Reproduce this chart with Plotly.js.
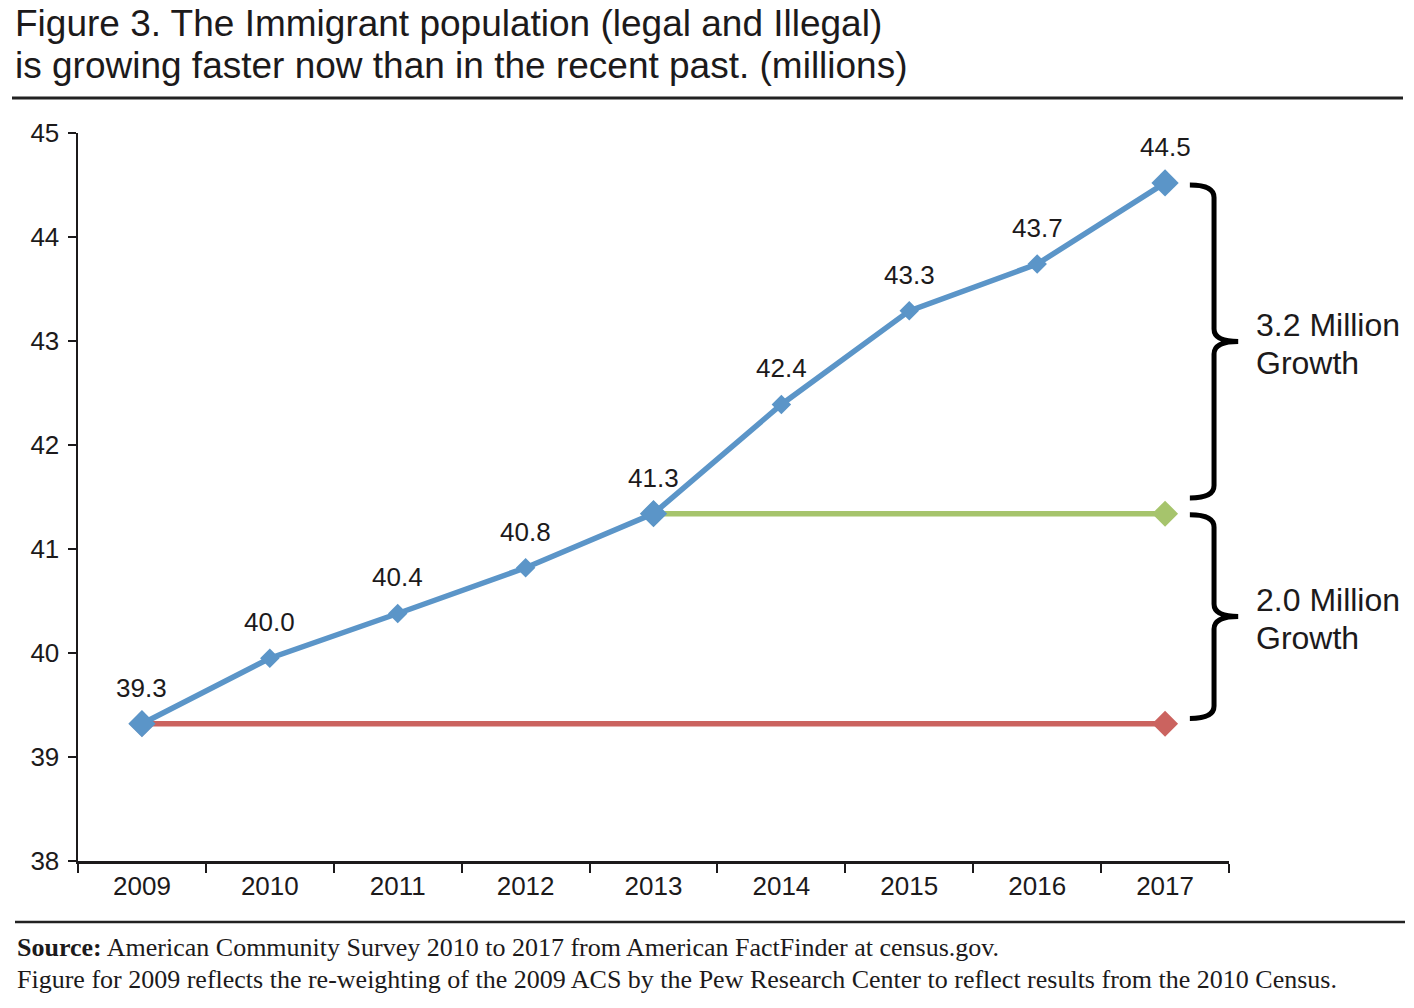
<!DOCTYPE html>
<html>
<head>
<meta charset="utf-8">
<script src="https://cdn.plot.ly/plotly-3.0.1.min.js"></script>
<style>
html,body{margin:0;padding:0;background:#fff;}
#chart{width:1414px;height:1008px;}
</style>
</head>
<body>
<div id="chart"></div>
<script>
// ---- data ----
const years = ['2009','2010','2011','2012','2013','2014','2015','2016','2017'];
const population = [39.32, 39.95, 40.38, 40.82, 41.34, 42.39, 43.29, 43.74, 44.52];
const valueLabels = ['39.3','40.0','40.4','40.8','41.3','42.4','43.3','43.7','44.5'];
const keyPoint = [true, false, false, false, true, false, false, false, true];
const baselineYears = ['2009', '2017'];
const baselineValues = [39.32, 39.32];
const midYears = ['2013', '2017'];
const midValues = [41.34, 41.34];
const braceLabels = [['3.2 Million', 'Growth'], ['2.0 Million', 'Growth']];
const titleLines = ['Figure 3. The Immigrant population (legal and Illegal)', 'is growing faster now than in the recent past. (millions)'];
const sourceLine1 = '<b>Source:</b> American Community Survey 2010 to 2017 from American FactFinder at census.gov.';
const sourceLine2 = 'Figure for 2009 reflects the re-weighting of the 2009 ACS by the Pew Research Center to reflect results from the 2010 Census.';

const BLUE = '#5b95c8', RED = '#cb635f', GREEN = '#a6c46c', INK = '#1c1a1b';
const SANS = 'Liberation Sans, Arial, Helvetica, sans-serif';
const SERIF = 'Liberation Serif, Times New Roman, serif';
const BIG = 21, SMALL = 15;

const traces = [
  { x: baselineYears, y: baselineValues, type: 'scatter', mode: 'lines+markers',
    line: {color: RED, width: 5.5}, marker: {symbol: 'diamond', size: 20, color: RED, opacity: 1},
    hoverinfo: 'skip', cliponaxis: false },
  { x: midYears, y: midValues, type: 'scatter', mode: 'lines+markers',
    line: {color: GREEN, width: 5.5}, marker: {symbol: 'diamond', size: 20, color: GREEN, opacity: 1},
    hoverinfo: 'skip', cliponaxis: false },
  { x: years, y: population, type: 'scatter', mode: 'lines+markers',
    line: {color: BLUE, width: 5.5},
    marker: {symbol: 'diamond', size: keyPoint.map(k => k ? BIG : SMALL), color: BLUE, opacity: 1,
             line: {width: 0}},
    hoverinfo: 'skip', cliponaxis: false }
];

// brace path builder (x in paper coords, y in data coords)
function brace(yTop, yBot) {
  const x0 = 0.966, x1 = 0.987, x2 = 1.008, d = 0.12;
  const ym = (yTop + yBot) / 2;
  return `M ${x0},${yTop} Q ${x1},${yTop} ${x1},${yTop - d} L ${x1},${ym + d} ` +
         `Q ${x1},${ym} ${x2},${ym} Q ${x1},${ym} ${x1},${ym - d} ` +
         `L ${x1},${yBot + d} Q ${x1},${yBot} ${x0},${yBot}`;
}
const endVal = population[population.length - 1];
const midVal = midValues[0];
const startVal = baselineValues[0];
const braceSpans = [[endVal - 0.02, midVal + 0.15], [midVal - 0.01, startVal + 0.05]];

const shapes = braceSpans.map(s => ({
  type: 'path', xref: 'paper', yref: 'y', path: brace(s[0], s[1]),
  line: {color: '#000', width: 5}
}));

// value labels: x given as category index (position on the category axis)
const annotations = years.map((yr, i) => ({
  x: i, y: population[i], xref: 'x', yref: 'y', text: valueLabels[i],
  showarrow: false, yshift: 36, font: {family: SANS, size: 26, color: INK}
}));
braceSpans.forEach((s, k) => {
  const ym = (s[0] + s[1]) / 2;
  braceLabels[k].forEach((line, j) => annotations.push({
    x: 1.022, xref: 'paper', y: ym, yref: 'y', text: line, showarrow: false,
    xanchor: 'left', yanchor: 'middle', yshift: j === 0 ? 17 : -21,
    font: {family: SANS, size: 32, color: INK}
  }));
});

const W = 1414, H = 1008, L = 78, R = 185, T = 133, B = 147;
// convert pixel positions for page-level text/rules to paper coords
function px(x) { return (x - L) / (W - L - R); }
function py(y) { return 1 - (y - T) / (H - T - B); }
annotations.push(
  {x: px(13), y: py(23), xref: 'paper', yref: 'paper', text: titleLines[0], showarrow: false,
   xanchor: 'left', yanchor: 'middle', font: {family: SANS, size: 37, color: INK}},
  {x: px(13), y: py(66), xref: 'paper', yref: 'paper', text: titleLines[1], showarrow: false,
   xanchor: 'left', yanchor: 'middle', font: {family: SANS, size: 37, color: INK}},
  {x: px(15), y: py(947), xref: 'paper', yref: 'paper', text: sourceLine1, showarrow: false,
   xanchor: 'left', yanchor: 'middle', font: {family: SERIF, size: 26, color: INK}},
  {x: px(15), y: py(979), xref: 'paper', yref: 'paper', text: sourceLine2, showarrow: false,
   xanchor: 'left', yanchor: 'middle', font: {family: SERIF, size: 26, color: INK}}
);
shapes.push(
  {type: 'line', xref: 'paper', yref: 'paper', x0: px(12), x1: px(1403), y0: py(98), y1: py(98),
   line: {color: '#222', width: 3}},
  {type: 'line', xref: 'paper', yref: 'paper', x0: px(15), x1: px(1405), y0: py(922), y1: py(922),
   line: {color: '#222', width: 2.5}}
);

const layout = {
  width: W, height: H,
  margin: {l: L, r: R, t: T, b: B, pad: 0},
  paper_bgcolor: '#fff', plot_bgcolor: '#fff',
  showlegend: false,
  font: {family: SANS, color: INK},
  xaxis: {
    type: 'category', categoryorder: 'array', categoryarray: years,
    range: [-0.5, years.length - 0.5], autorange: false,
    tickson: 'boundaries', ticks: 'outside', ticklen: 9, tickwidth: 2,
    tickcolor: INK, showline: true, linecolor: INK, linewidth: 2.5, showgrid: false,
    zeroline: false, tickangle: 0, tickfont: {family: SANS, size: 26, color: INK}, fixedrange: true
  },
  yaxis: {
    range: [38, 45], autorange: false, dtick: 1, ticks: 'outside', ticklen: 8, tickwidth: 2, tickcolor: INK,
    showline: true, linecolor: INK, linewidth: 2.5, showgrid: false, zeroline: false,
    ticklabelstandoff: 3,
    tickfont: {family: SANS, size: 26, color: INK}, fixedrange: true
  },
  shapes: shapes,
  annotations: annotations
};

Plotly.newPlot('chart', traces, layout, {displayModeBar: false, staticPlot: true});
</script>
</body>
</html>
